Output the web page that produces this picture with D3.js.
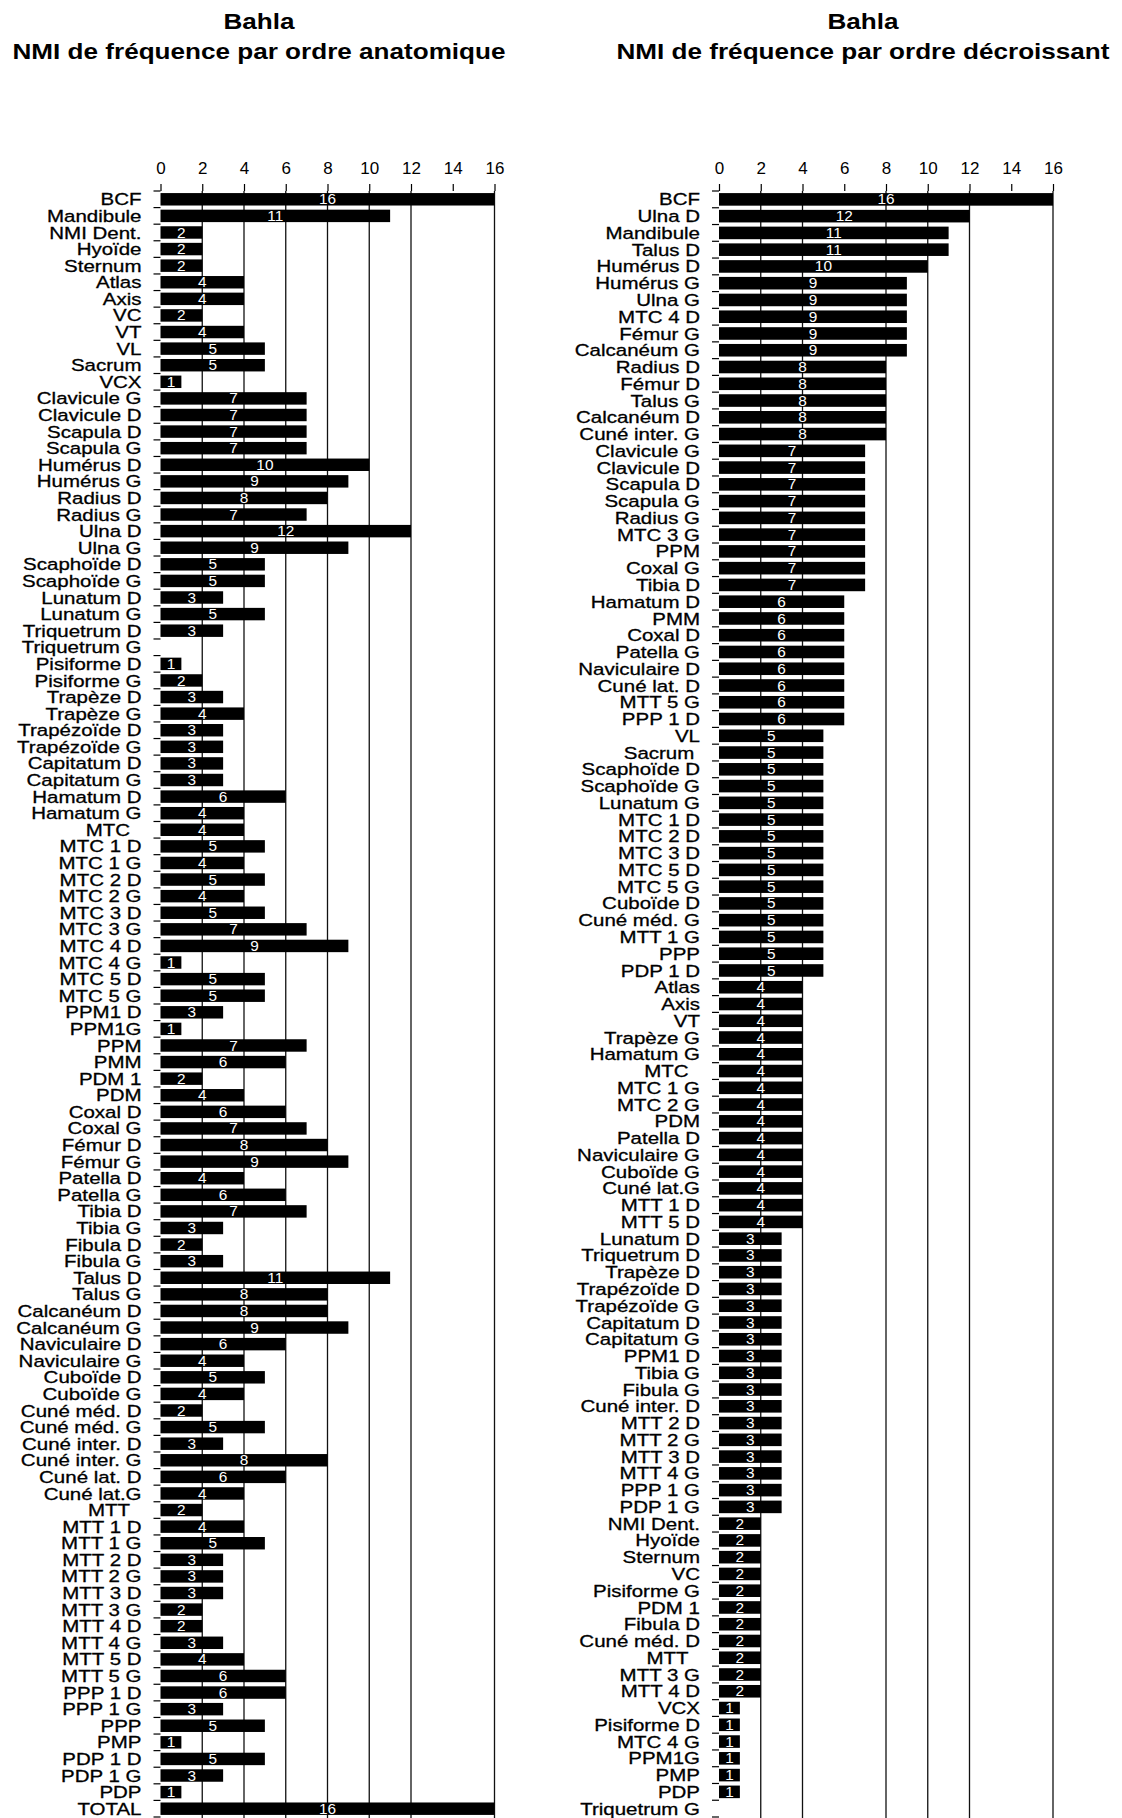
<!DOCTYPE html>
<html>
<head>
<meta charset="utf-8">
<script src="https://cdn.jsdelivr.net/npm/d3@7"></script>
<style>
  html, body { margin: 0; padding: 0; background: #fff; }
  svg { display: block; }
  text { font-family: "Liberation Sans", Arial, sans-serif; }
</style>
</head>
<body>
<svg id="chart" width="1122" height="1818"></svg>
<script>
// ---------- DATA ----------
const titleMain = "Bahla";
const titleLeft = "NMI de fréquence par ordre anatomique";
const titleRight = "NMI de fréquence par ordre décroissant";

const xTicks = [0, 2, 4, 6, 8, 10, 12, 14, 16];

const anatCategories = [
  "BCF", "Mandibule", "NMI Dent.", "Hyoïde", "Sternum", "Atlas", "Axis", "VC", "VT", "VL",
  "Sacrum", "VCX", "Clavicule G", "Clavicule D", "Scapula D", "Scapula G", "Humérus D", "Humérus G",
  "Radius D", "Radius G", "Ulna D", "Ulna G", "Scaphoïde D", "Scaphoïde G", "Lunatum D", "Lunatum G",
  "Triquetrum D", "Triquetrum G", "Pisiforme D", "Pisiforme G", "Trapèze D", "Trapèze G",
  "Trapézoïde D", "Trapézoïde G", "Capitatum D", "Capitatum G", "Hamatum D", "Hamatum G",
  "MTC\u00a0\u00a0", "MTC 1 D", "MTC 1 G", "MTC 2 D", "MTC 2 G", "MTC 3 D", "MTC 3 G", "MTC 4 D", "MTC 4 G",
  "MTC 5 D", "MTC 5 G", "PPM1 D", "PPM1G", "PPM", "PMM", "PDM 1", "PDM", "Coxal D", "Coxal G",
  "Fémur D", "Fémur G", "Patella D", "Patella G", "Tibia D", "Tibia G", "Fibula D", "Fibula G",
  "Talus D", "Talus G", "Calcanéum D", "Calcanéum G", "Naviculaire D", "Naviculaire G",
  "Cuboïde D", "Cuboïde G", "Cuné méd. D", "Cuné méd. G", "Cuné inter. D", "Cuné inter. G",
  "Cuné lat. D", "Cuné lat.G", "MTT\u00a0\u00a0", "MTT 1 D", "MTT 1 G", "MTT 2 D", "MTT 2 G", "MTT 3 D",
  "MTT 3 G", "MTT 4 D", "MTT 4 G", "MTT 5 D", "MTT 5 G", "PPP 1 D", "PPP 1 G", "PPP", "PMP",
  "PDP 1 D", "PDP 1 G", "PDP", "TOTAL"
];
const anatValues = [
  16, 11, 2, 2, 2, 4, 4, 2, 4, 5,
  5, 1, 7, 7, 7, 7, 10, 9,
  8, 7, 12, 9, 5, 5, 3, 5,
  3, 0, 1, 2, 3, 4,
  3, 3, 3, 3, 6, 4,
  4, 5, 4, 5, 4, 5, 7, 9, 1,
  5, 5, 3, 1, 7, 6, 2, 4, 6, 7,
  8, 9, 4, 6, 7, 3, 2, 3,
  11, 8, 8, 9, 6, 4,
  5, 4, 2, 5, 3, 8,
  6, 4, 2, 4, 5, 3, 3, 3,
  2, 2, 3, 4, 6, 6, 3, 5, 1,
  5, 3, 1, 16
];

const decrCategories = [
  "BCF", "Ulna D", "Mandibule", "Talus D", "Humérus D", "Humérus G", "Ulna G", "MTC 4 D", "Fémur G",
  "Calcanéum G", "Radius D", "Fémur D", "Talus G", "Calcanéum D", "Cuné inter. G", "Clavicule G",
  "Clavicule D", "Scapula D", "Scapula G", "Radius G", "MTC 3 G", "PPM", "Coxal G", "Tibia D",
  "Hamatum D", "PMM", "Coxal D", "Patella G", "Naviculaire D", "Cuné lat. D", "MTT 5 G", "PPP 1 D",
  "VL", "Sacrum\u00a0", "Scaphoïde D", "Scaphoïde G", "Lunatum G", "MTC 1 D", "MTC 2 D", "MTC 3 D",
  "MTC 5 D", "MTC 5 G", "Cuboïde D", "Cuné méd. G", "MTT 1 G", "PPP", "PDP 1 D", "Atlas", "Axis",
  "VT", "Trapèze G", "Hamatum G", "MTC\u00a0\u00a0", "MTC 1 G", "MTC 2 G", "PDM", "Patella D",
  "Naviculaire G", "Cuboïde G", "Cuné lat.G", "MTT 1 D", "MTT 5 D", "Lunatum D", "Triquetrum D",
  "Trapèze D", "Trapézoïde D", "Trapézoïde G", "Capitatum D", "Capitatum G", "PPM1 D", "Tibia G",
  "Fibula G", "Cuné inter. D", "MTT 2 D", "MTT 2 G", "MTT 3 D", "MTT 4 G", "PPP 1 G", "PDP 1 G",
  "NMI Dent.", "Hyoïde", "Sternum", "VC", "Pisiforme G", "PDM 1", "Fibula D", "Cuné méd. D",
  "MTT\u00a0\u00a0", "MTT 3 G", "MTT 4 D", "VCX", "Pisiforme D", "MTC 4 G", "PPM1G", "PMP", "PDP",
  "Triquetrum G"
];
const decrValues = [
  16, 12, 11, 11, 10, 9, 9, 9, 9,
  9, 8, 8, 8, 8, 8, 7,
  7, 7, 7, 7, 7, 7, 7, 7,
  6, 6, 6, 6, 6, 6, 6, 6,
  5, 5, 5, 5, 5, 5, 5, 5,
  5, 5, 5, 5, 5, 5, 5, 4, 4,
  4, 4, 4, 4, 4, 4, 4, 4,
  4, 4, 4, 4, 4, 3, 3,
  3, 3, 3, 3, 3, 3, 3,
  3, 3, 3, 3, 3, 3, 3, 3,
  2, 2, 2, 2, 2, 2, 2, 2,
  2, 2, 2, 1, 1, 1, 1, 1, 1,
  0
];

// gridlines visible in the reference picture
const leftGrid = [2, 4, 6, 8, 10, 12, 16];
const rightGrid = [2, 4, 8, 10, 12, 16];

// ---------- DRAW ----------
const svg = d3.select("#chart");

function drawChart(opts) {
  const { x0, categories, values, grid, title, titleX } = opts;
  const rows = categories.map((c, i) => ({ c, v: values[i] }));
  const top = 191, bottom = 1817;
  const x = d3.scaleLinear().domain([0, 16]).range([x0, x0 + 334]);
  const y = d3.scaleBand().domain(categories).range([top, bottom])
    .paddingInner(0.25).paddingOuter(0.125);

  // title
  const tg = svg.append("g").attr("transform", `translate(${titleX},0) scale(1.16,1)`);
  tg.append("text").attr("y", 29).attr("text-anchor", "middle")
    .attr("font-size", 22.5).attr("font-weight", "bold").text(titleMain);
  tg.append("text").attr("y", 59).attr("text-anchor", "middle")
    .attr("font-size", 22.5).attr("font-weight", "bold").text(title);

  const g = svg.append("g");

  // top axis
  const axis = d3.axisTop(x).tickValues(xTicks).tickSize(7).tickPadding(10)
    .tickFormat(d3.format("d"));
  const ag = g.append("g").attr("transform", `translate(0,${top})`).call(axis);
  ag.select(".domain").remove();
  ag.selectAll(".tick line").attr("stroke", "#000").attr("stroke-width", 1.2);
  ag.selectAll(".tick text").attr("font-size", 17).attr("fill", "#000")
    .attr("font-family", "Liberation Sans, Arial, sans-serif");

  // gridlines
  g.append("g").selectAll("line").data(grid).join("line")
    .attr("x1", d => x(d)).attr("x2", d => x(d))
    .attr("y1", top).attr("y2", 1818)
    .attr("stroke", "#111").attr("stroke-width", 1.3);

  // bars
  g.append("g").selectAll("rect").data(rows).join("rect")
    .attr("x", x(0))
    .attr("y", d => y(d.c))
    .attr("width", d => x(d.v) - x(0))
    .attr("height", y.bandwidth())
    .attr("fill", "#000");

  // value labels
  g.append("g").selectAll("text").data(rows.filter(d => d.v > 0)).join("text")
    .attr("transform", d => `translate(${(x(0) + x(d.v)) / 2},${y(d.c) + y.bandwidth() / 2}) scale(1.1,1)`)
    .attr("text-anchor", "middle")
    .attr("dy", "0.36em")
    .attr("font-size", 14)
    .attr("fill", "#fff")
    .text(d => d.v);

  // category ticks (at band boundaries)
  const step = y.step();
  const start = y(categories[0]) - y.paddingInner() * step / 2;
  const bounds = d3.range(categories.length + 1).map(i => start + i * step);
  g.append("g").selectAll("line").data(bounds).join("line")
    .attr("x1", x(0) - 7).attr("x2", x(0))
    .attr("y1", d => d).attr("y2", d => d)
    .attr("stroke", "#000").attr("stroke-width", 1.2);

  // category labels
  g.append("g").selectAll("text").data(rows).join("text")
    .attr("transform", d => `translate(${x(0) - 19},${y(d.c) + y.bandwidth() / 2}) scale(1.22,1)`)
    .attr("text-anchor", "end")
    .attr("dy", "0.36em")
    .attr("font-size", 16.8)
    .attr("fill", "#000")
    .attr("stroke", "#000")
    .attr("stroke-width", 0.3)
    .style("white-space", "pre")
    .text(d => d.c);
}

drawChart({ x0: 160.5, categories: anatCategories, values: anatValues, grid: leftGrid,
  title: titleLeft, titleX: 259 });
drawChart({ x0: 719, categories: decrCategories, values: decrValues, grid: rightGrid,
  title: titleRight, titleX: 863 });
</script>
</body>
</html>
